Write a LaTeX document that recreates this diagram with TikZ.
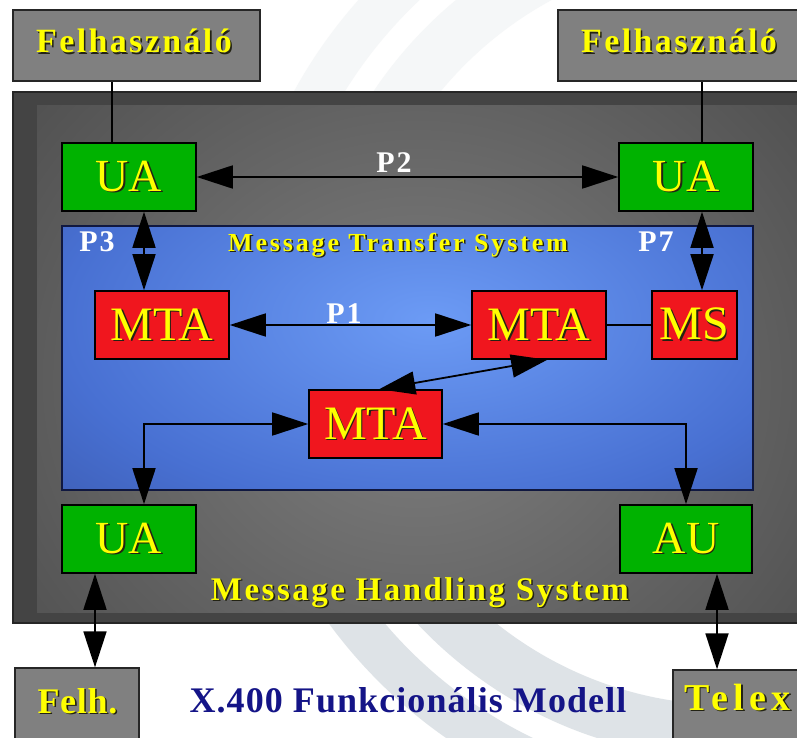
\documentclass[tikz,border=0pt]{standalone}
\usepackage{fontspec}
\setmainfont{Liberation Serif}
\usetikzlibrary{arrows.meta,calc}

\definecolor{ylw}{RGB}{255,255,0}
\definecolor{shd}{RGB}{35,35,20}
\definecolor{grn}{RGB}{0,178,0}
\definecolor{redb}{RGB}{240,22,30}
\definecolor{grayb}{RGB}{128,128,128}
\definecolor{darkbg}{RGB}{68,68,68}
\definecolor{grayin}{RGB}{128,128,128}
\definecolor{grayout}{RGB}{56,56,56}
\definecolor{bluein}{RGB}{108,155,245}
\definecolor{bluemid}{RGB}{72,112,210}
\definecolor{blueout}{RGB}{40,58,125}
\definecolor{blueedge}{RGB}{16,24,64}
\definecolor{navy}{RGB}{20,20,135}
\definecolor{wm}{RGB}{222,227,231}

\pgfdeclareradialshading{bluerad}{\pgfpointorigin}{color(0bp)=(bluein); color(22bp)=(bluemid); color(50bp)=(blueout)}
\pgfdeclareradialshading{grayrad}{\pgfpointorigin}{color(0bp)=(grayin); color(50bp)=(grayout)}

\newcommand{\sht}[1]{\leavevmode\rlap{\kern1.5pt\raisebox{-1.5pt}{\color{shd}#1}}#1}

\tikzset{
  box/.style={draw=black, line width=1.6pt, minimum height=68pt, inner sep=0pt,
    text=ylw, font=\fontsize{46}{50}\selectfont},
  uabox/.style={box, fill=grn, minimum width=134pt},
  mtabox/.style={box, fill=redb, minimum width=134pt, font=\fontsize{48}{52}\selectfont},
  graybox/.style={draw=black!85, line width=1.3pt, fill=grayb, inner sep=0pt},
  lbl/.style={anchor=base, inner sep=0pt, text=ylw},
  plbl/.style={anchor=base, inner sep=0pt, text=white,
    font=\fontsize{30}{32}\selectfont\bfseries\addfontfeatures{LetterSpace=6}},
  conn/.style={line width=1.8pt, draw=black},
  thinconn/.style={line width=1.2pt, draw=black},
  dbl/.style={conn, {Triangle[length=36pt,width=23pt]}-{Triangle[length=36pt,width=23pt]}},
}

\begin{document}
\begin{tikzpicture}[x=1pt,y=-1pt]
\useasboundingbox (0,0) rectangle (797,738);
\clip (0,0) rectangle (797,738);
\fill[white] (0,0) rectangle (797,738);

% watermark rings
\draw[wm, line width=44pt] (730,330) circle (475);
\draw[wm, line width=54pt] (730,330) circle (402);
\fill[white, opacity=0.72] (0,0) rectangle (797,92);

% outer dark area (Message Handling System)
\fill[darkbg] (13,92) rectangle (812,623);
\begin{scope}
  \clip (37,106) rectangle (812,612);
  \shade[shading=grayrad] (37,40) rectangle (797,720);
\end{scope}
\draw[black!85, line width=1.2pt] (13,92) rectangle (812,623);

% Message Transfer System area
\begin{scope}
  \clip (62,226) rectangle (753,490);
  \shade[shading=bluerad] (10,100) rectangle (850,540);
\end{scope}
\draw[blueedge, line width=1.8pt] (62,226) rectangle (753,490);

% top users
\node[graybox, minimum width=247pt, minimum height=71pt] (fl) at (136.5,45.5) {};
\node[lbl, font=\fontsize{34}{36}\selectfont\bfseries\addfontfeatures{LetterSpace=7}] (fltxt) at (134,53) {\sht{Felhasználó}};
\node[graybox, minimum width=252pt, minimum height=71pt] (fr) at (684,45.5) {};
\node[lbl, font=\fontsize{34}{36}\selectfont\bfseries\addfontfeatures{LetterSpace=7}] (frtxt) at (679,53) {\sht{Felhasználó}};

% bottom users
\node[graybox, minimum width=124pt, minimum height=77pt] (felh) at (77,706.5) {};
\node[lbl, font=\fontsize{36}{40}\selectfont\bfseries\addfontfeatures{LetterSpace=2}] (felhtxt) at (77.5,713) {\sht{Felh.}};
\node[graybox, minimum width=137pt, minimum height=75pt] (telex) at (741.5,707.5) {};
\node[lbl, font=\fontsize{38}{42}\selectfont\bfseries\addfontfeatures{LetterSpace=14}] (telextxt) at (737.5,710) {\sht{Telex}};

% agents
\node[uabox] (ual) at (129,177) {\sht{UA}};
\node[uabox] (uar) at (686,177) {\sht{UA}};
\node[mtabox] (mtal) at (162,325) {\sht{MTA}};
\node[mtabox] (mtam) at (539,325) {\sht{MTA}};
\node[mtabox, minimum width=85pt] (ms) at (694.5,325) {\sht{MS}};
\node[mtabox, minimum width=133pt] (mtab) at (375.5,424) {\sht{MTA}};
\node[uabox] (uab) at (129,539) {\sht{UA}};
\node[uabox, minimum width=132pt] (au) at (686,539) {\sht{AU}};

% labels
\node[lbl, font=\fontsize{26}{30}\selectfont\bfseries\addfontfeatures{LetterSpace=11}] (mtslbl) at (398,251) {\sht{Message Transfer System}};
\node[lbl, font=\fontsize{33}{36}\selectfont\bfseries\addfontfeatures{LetterSpace=7.5}] (mhslbl) at (420,600) {\sht{Message Handling System}};
\node[plbl] (p2) at (394,172) {P2};
\node[plbl] (p1) at (344,323) {P1};
\node[plbl] (p3) at (97,251) {P3};
\node[plbl] (p7) at (656,251) {P7};
\node[anchor=base, inner sep=0pt, text=navy, font=\fontsize{36}{40}\selectfont\bfseries\addfontfeatures{LetterSpace=3}] (title) at (408,712) {X.400 Funkcionális Modell};

% connectors
\draw[thinconn] ([xshift=-17pt]ual.north) -- ([xshift=-17pt]ual.north |- fl.south);
\draw[thinconn] ([xshift=16pt]uar.north) -- ([xshift=16pt]uar.north |- fr.south);
\draw[dbl] (ual.east) -- (uar.west);
\draw[dbl] ([xshift=15pt]ual.south) -- ([xshift=15pt]ual.south |- mtal.north);
\draw[dbl] ([xshift=16pt]uar.south) -- ([xshift=16pt]uar.south |- ms.north);
\draw[dbl] (mtal.east) -- (mtam.west);
\draw[conn] (mtam.east) -- (ms.west);
\draw[dbl] ([xshift=71pt]mtab.north west) -- ([xshift=76pt]mtam.south west);
\draw[dbl] (mtab.west) -| ([xshift=15pt]uab.north);
\draw[dbl] (mtab.east) -| (au.north);
\draw[dbl] ([xshift=-34pt]uab.south) -- ([xshift=-34pt]uab.south |- felh.north);
\draw[dbl] ([xshift=31pt]au.south) -- ([xshift=31pt]au.south |- telex.north);
\end{tikzpicture}
\end{document}
